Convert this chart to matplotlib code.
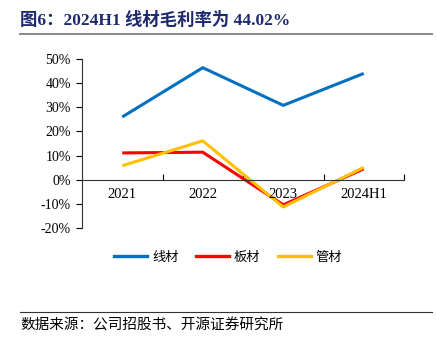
import matplotlib
matplotlib.use("Agg")
import matplotlib.pyplot as plt
from matplotlib.lines import Line2D
from matplotlib.ticker import FuncFormatter

categories = ["2021", "2022", "2023", "2024H1"]
wire = [26.0, 46.4, 30.8, 44.02]
plate = [11.1, 11.4, -10.4, 4.5]
tube = [5.8, 16.1, -11.3, 5.1]
series_names = ["线材", "板材", "管材"]
colors = ["#0070C0", "#FF0000", "#FFC000"]

latin = ["Liberation Serif", "Noto Sans CJK SC"]
cjk = ["Noto Sans CJK SC", "DejaVu Sans"]

W, H = 436, 347
fig = plt.figure(figsize=(W / 100, H / 100), dpi=100)

ax = fig.add_axes([82 / W, 1 - 228 / H, (404 - 82) / W, (228 - 59) / H])
x = range(len(categories))
for vals, c, n in zip([wire, plate, tube], colors, series_names):
    ax.plot(list(x), vals, color=c, lw=2.2, label=n, solid_capstyle="butt")

ax.set_xlim(-0.5, len(categories) - 0.5)
ax.set_ylim(-20, 50)
ax.set_yticks(range(-20, 51, 10))
ax.yaxis.set_major_formatter(FuncFormatter(lambda v, p: f"{int(v)}%"))
for lab in ax.get_yticklabels():
    lab.set_fontfamily(latin)
    lab.set_fontsize(10)
ax.tick_params(axis="y", direction="out", length=4, width=0.8, pad=4, colors="black")

ax.spines["top"].set_visible(False)
ax.spines["right"].set_visible(False)
ax.spines["bottom"].set_position(("data", 0))
ax.spines["left"].set_color("#333333")
ax.spines["bottom"].set_color("#333333")

ax.set_xticks([i + 0.5 for i in range(len(categories))])
ax.set_xticklabels([])
ax.tick_params(axis="x", direction="in", length=4, width=0.8)
for i, c in enumerate(categories):
    ax.text(i, -3.5, c, ha="center", va="top", fontsize=10.5, family=latin,
            transform=ax.transData)

handles = [Line2D([0], [0], color=c, lw=2.4) for c in colors]
fig.legend(handles, series_names, loc="center", bbox_to_anchor=(228 / W, 1 - 257 / H),
           ncol=3, frameon=False, prop={"family": cjk, "size": 9.5},
           handlelength=2.5, columnspacing=1.3, handletextpad=0.4)

fig.text(20 / W, 1 - 20 / H, "图6：2024H1 线材毛利率为 44.02%", fontsize=12.5,
         fontweight="bold", color="#1F2A6E", family=latin, ha="left", va="center")
fig.add_artist(Line2D([20 / W, 432 / W], [1 - 34 / H, 1 - 34 / H], color="#8C8C8C", lw=1.5))
fig.add_artist(Line2D([20 / W, 432 / W], [1 - 312 / H, 1 - 312 / H], color="#333333", lw=0.8))
fig.text(20 / W, 1 - 326 / H, "数据来源：公司招股书、开源证券研究所", fontsize=10.5,
         color="black", family=cjk, ha="left", va="center")

fig.savefig("out.png", dpi=100)
